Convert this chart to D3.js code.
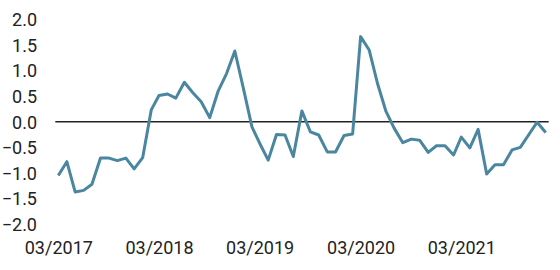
<!DOCTYPE html>
<html>
<head>
<meta charset="utf-8">
<script src="https://cdn.jsdelivr.net/npm/d3@7"></script>
<style>
  html, body { margin: 0; padding: 0; background: #fff; }
  svg text { font-family: Roboto, "Noto Sans", sans-serif; fill: #222; }
</style>
</head>
<body>
<svg id="chart"></svg>
<script>
// monthly values, 03/2017 .. 01/2022
const startMonth = '2017-03';
const values = [
  -1.05, -0.78, -1.37, -1.34, -1.22, -0.71, -0.71, -0.76, -0.71, -0.92,
  -0.70, 0.23, 0.51, 0.54, 0.46, 0.77, 0.57, 0.39, 0.08, 0.59,
  0.94, 1.38, 0.65, -0.10, -0.42, -0.75, -0.25, -0.26, -0.68, 0.21,
  -0.20, -0.26, -0.59, -0.59, -0.27, -0.24, 1.66, 1.40, 0.75, 0.20,
  -0.13, -0.41, -0.34, -0.36, -0.60, -0.47, -0.47, -0.65, -0.30, -0.51,
  -0.15, -1.02, -0.84, -0.84, -0.55, -0.50, -0.25, -0.01, -0.21
];
const yTicks = [2.0, 1.5, 1.0, 0.5, 0.0, -0.5, -1.0, -1.5, -2.0];
const xTickLabels = ['03/2017', '03/2018', '03/2019', '03/2020', '03/2021'];

const width = 560, height = 270;
const parseMonth = d3.timeParse('%Y-%m');
const t0 = parseMonth(startMonth);
const data = values.map((v, i) => ({ date: d3.timeMonth.offset(t0, i), value: v }));

const svg = d3.select('#chart').attr('width', width).attr('height', height);

const x = d3.scaleTime()
  .domain(d3.extent(data, d => d.date))
  .range([58.3, 545.7]);

const y = d3.scaleLinear()
  .domain([-2, 2])
  .range([224.2, 19.2]);

// y axis labels
const yAxis = svg.append('g')
  .attr('transform', 'translate(37,0)')
  .call(d3.axisLeft(y).tickValues(yTicks).tickSize(0).tickPadding(0).tickFormat(d3.format('.1f')));
yAxis.select('.domain').remove();
yAxis.selectAll('text')
  .style('font-size', '18px')
  .attr('dy', '0.35em')
  .attr('fill', '#222');

// x axis labels
const xDates = xTickLabels.map(s => d3.timeParse('%m/%Y')(s));
const xAxis = svg.append('g')
  .attr('transform', 'translate(0,247.5)')
  .call(d3.axisBottom(x).tickValues(xDates).tickSize(0).tickPadding(0).tickFormat(d3.timeFormat('%m/%Y')));
xAxis.select('.domain').remove();
xAxis.selectAll('text')
  .style('font-size', '18px')
  .attr('dy', '0.35em')
  .attr('y', 0)
  .attr('fill', '#222');

// zero line
svg.append('line')
  .attr('x1', x.range()[0] - 3)
  .attr('x2', x.range()[1] + 3)
  .attr('y1', y(0))
  .attr('y2', y(0))
  .attr('stroke', '#222')
  .attr('stroke-width', 1.5);

// series
const line = d3.line()
  .x(d => x(d.date))
  .y(d => y(d.value));

svg.append('path')
  .datum(data)
  .attr('fill', 'none')
  .attr('stroke', '#4a86a0')
  .attr('stroke-width', 3)
  .attr('stroke-linejoin', 'round')
  .attr('d', line);
</script>
</body>
</html>
